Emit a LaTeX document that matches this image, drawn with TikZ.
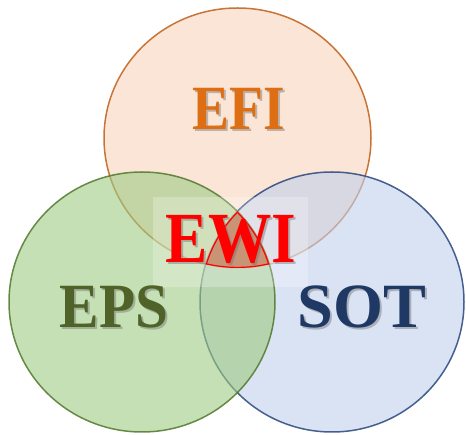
\documentclass[tikz,border=0pt]{standalone}
\usepackage{fontspec}
\setmainfont{Liberation Serif}

% fills are given at full strength, the circles use them with fill opacity
\definecolor{efiFill}{RGB}{248,212,187}
\definecolor{efiLine}{RGB}{190,95,25}
\definecolor{efiText}{RGB}{222,110,20}
\definecolor{epsFill}{RGB}{158,203,130}
\definecolor{epsLine}{RGB}{80,120,45}
\definecolor{epsText}{RGB}{79,98,40}
\definecolor{sotFill}{RGB}{193,208,235}
\definecolor{sotLine}{RGB}{40,70,125}
\definecolor{sotText}{RGB}{31,56,100}
\definecolor{coreFill}{RGB}{200,148,118}

\begin{document}
\begin{tikzpicture}[x=1pt,y=1pt,yscale=-1,
    ring/.style={line width=1.5, fill opacity=0.6, draw opacity=0.85},
    lbl/.style={inner sep=0, font=\fontsize{63}{63}\selectfont\bfseries},
    big/.style={font=\fontsize{72}{72}\selectfont\bfseries},
    shade/.style={lbl, text=black!55, text opacity=0.45}]
        \useasboundingbox (0,0) rectangle (466,435);

        %Circles
        \filldraw [ring, fill=efiFill, draw=efiLine] (237.5,138) ellipse [x radius=133.5, y radius=130];
        \filldraw [ring, fill=sotFill, draw=sotLine] (332,302) ellipse [x radius=132, y radius=130];
        \filldraw [ring, fill=epsFill, draw=epsLine] (142,302) ellipse [x radius=133, y radius=130];

        %Light panel behind the centre label
        \fill [white, fill opacity=0.25] (153,197) rectangle (308,287);

        %Centre where all three meet
        \begin{scope}
            \clip (142,302) ellipse [x radius=133, y radius=130];
            \clip (332,302) ellipse [x radius=132, y radius=130];
            \clip (237.5,138) ellipse [x radius=133.5, y radius=130];
            \fill [coreFill] (153,197) rectangle (308,287);
            \draw [red, line width=2.4] (142,302) ellipse [x radius=133, y radius=130];
            \draw [red, line width=2.4] (332,302) ellipse [x radius=132, y radius=130];
            \draw [red, line width=2.4] (237.5,138) ellipse [x radius=133.5, y radius=130];
        \end{scope}

        %Labels with their shadows
        \node [shade] (efishadow) at (241,111) {\scalebox{0.88}[1]{EFI}};
        \node [lbl, text=efiText] (efi) at (239,109) {\scalebox{0.88}[1]{EFI}};
        \node [shade] (epsshadow) at (116,309) {\scalebox{0.94}[1]{EPS}};
        \node [lbl, text=epsText] (eps) at (114,307) {\scalebox{0.94}[1]{EPS}};
        \node [shade] (sotshadow) at (364,309) {\scalebox{1.02}[1]{SOT}};
        \node [lbl, text=sotText] (sot) at (362,307) {\scalebox{1.02}[1]{SOT}};
        \node [shade, big] (ewishadow) at (233,241) {\scalebox{0.88}[1]{EWI}};
        \node [lbl, big, text=red] (ewi) at (231,239) {\scalebox{0.88}[1]{EWI}};
\end{tikzpicture}
\end{document}
